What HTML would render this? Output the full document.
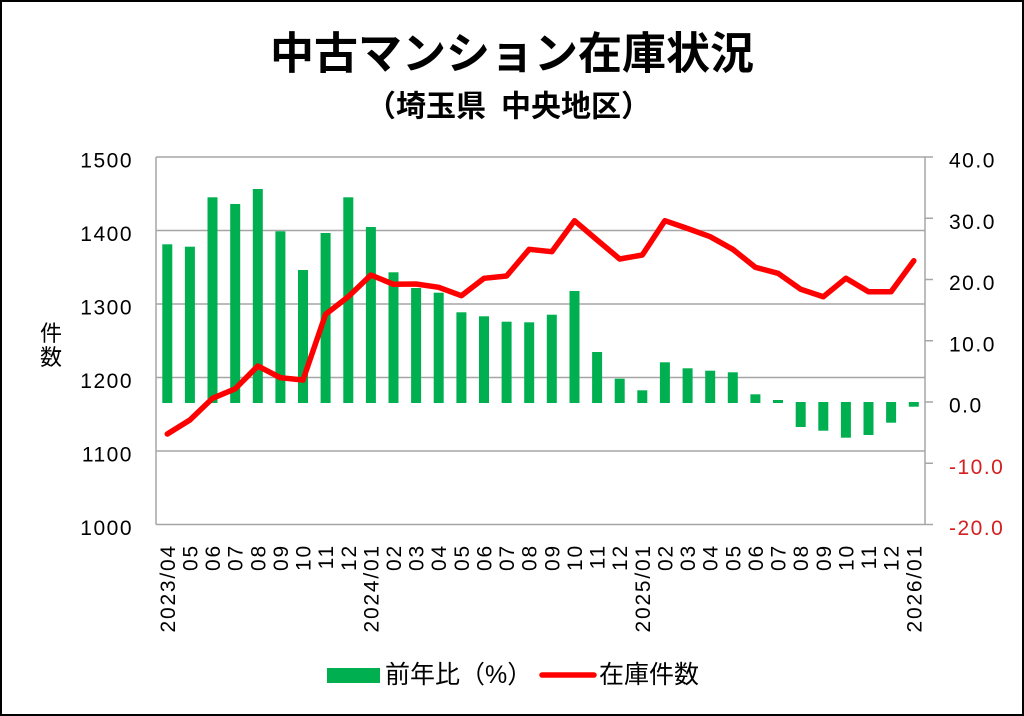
<!DOCTYPE html>
<html>
<head>
<meta charset="utf-8">
<style>
html,body{margin:0;padding:0;background:#fff;}
svg{display:block;}
text{font-family:"Liberation Sans","Noto Sans CJK JP",sans-serif;}
</style>
</head>
<body>
<svg width="1024" height="716" viewBox="0 0 1024 716" xmlns="http://www.w3.org/2000/svg">
<rect x="0" y="0" width="1024" height="716" fill="#fff"/>
<rect x="1" y="1" width="1022" height="714" fill="none" stroke="#000" stroke-width="2"/>

<!-- Title -->
<text x="270" y="68.5" font-size="44" font-weight="bold" fill="#000">中古マンション在庫状況</text>
<text x="366" y="116.5" font-size="30" font-weight="bold" fill="#000">（埼玉県</text>
<text x="501" y="116.5" font-size="30" font-weight="bold" fill="#000">中央地区）</text>

<!-- Gridlines -->
<g stroke="#a6a6a6" stroke-width="1.5" fill="none">
<line x1="156" y1="157" x2="925" y2="157"/>
<line x1="156" y1="230.5" x2="925" y2="230.5"/>
<line x1="156" y1="304" x2="925" y2="304"/>
<line x1="156" y1="377.5" x2="925" y2="377.5"/>
<line x1="156" y1="451" x2="925" y2="451"/>
<line x1="156" y1="524.5" x2="925" y2="524.5"/>
<line x1="156" y1="157" x2="156" y2="524.5"/>
<line x1="925" y1="157" x2="925" y2="524.5"/>
<line x1="925" y1="157" x2="933" y2="157"/>
<line x1="925" y1="218.25" x2="933" y2="218.25"/>
<line x1="925" y1="279.5" x2="933" y2="279.5"/>
<line x1="925" y1="340.75" x2="933" y2="340.75"/>
<line x1="925" y1="402" x2="933" y2="402"/>
<line x1="925" y1="463.25" x2="933" y2="463.25"/>
<line x1="925" y1="524.5" x2="933" y2="524.5"/>
</g>

<!-- Left axis labels -->
<g font-size="21" fill="#000" text-anchor="end" letter-spacing="1.5">
<text x="133" y="167.5">1500</text>
<text x="133" y="241">1400</text>
<text x="133" y="314.5">1300</text>
<text x="133" y="388">1200</text>
<text x="133" y="461.5">1100</text>
<text x="133" y="535">1000</text>
</g>

<!-- Right axis labels -->
<g font-size="21" letter-spacing="1.5">
<text x="949" y="167.5" fill="#000">40.0</text>
<text x="949" y="228.75" fill="#000">30.0</text>
<text x="949" y="290" fill="#000">20.0</text>
<text x="949" y="351.25" fill="#000">10.0</text>
<text x="949" y="412.5" fill="#000">0.0</text>
<text x="949" y="473.75" fill="#d42020">-10.0</text>
<text x="949" y="535" fill="#d42020">-20.0</text>
</g>

<!-- Y axis title -->
<text x="40" y="341" font-size="22" fill="#000">件</text>
<text x="40" y="365" font-size="22" fill="#000">数</text>

<!-- Bars -->
<g fill="#00b050">
<rect x="162.3" y="244.3" width="10" height="158.7"/>
<rect x="184.9" y="246.7" width="10" height="156.3"/>
<rect x="207.5" y="197.3" width="10" height="205.7"/>
<rect x="230.2" y="204" width="10" height="199"/>
<rect x="252.8" y="189" width="10" height="214"/>
<rect x="275.4" y="231.3" width="10" height="171.7"/>
<rect x="298.0" y="270" width="10" height="133"/>
<rect x="320.6" y="233" width="10" height="170"/>
<rect x="343.3" y="197.3" width="10" height="205.7"/>
<rect x="365.9" y="227" width="10" height="176"/>
<rect x="388.5" y="272.3" width="10" height="130.7"/>
<rect x="411.1" y="288" width="10" height="115"/>
<rect x="433.7" y="292.7" width="10" height="110.3"/>
<rect x="456.4" y="312.3" width="10" height="90.7"/>
<rect x="479.0" y="316.3" width="10" height="86.7"/>
<rect x="501.6" y="321.7" width="10" height="81.3"/>
<rect x="524.2" y="322.3" width="10" height="80.7"/>
<rect x="546.8" y="314.7" width="10" height="88.3"/>
<rect x="569.5" y="291" width="10" height="112"/>
<rect x="592.1" y="352" width="10" height="51"/>
<rect x="614.7" y="378.7" width="10" height="24.3"/>
<rect x="637.3" y="390.3" width="10" height="12.7"/>
<rect x="659.9" y="362.3" width="10" height="40.7"/>
<rect x="682.6" y="368.3" width="10" height="34.7"/>
<rect x="705.2" y="370.7" width="10" height="32.3"/>
<rect x="727.8" y="372.3" width="10" height="30.7"/>
<rect x="750.4" y="394.3" width="10" height="8.7"/>
<rect x="773.0" y="400" width="10" height="3"/>
<rect x="795.7" y="402" width="10" height="25"/>
<rect x="818.3" y="402" width="10" height="28.7"/>
<rect x="840.9" y="402" width="10" height="35.7"/>
<rect x="863.5" y="402" width="10" height="33"/>
<rect x="886.1" y="402" width="10" height="20.7"/>
<rect x="908.8" y="402" width="10" height="4.7"/>
</g>

<!-- Line -->
<polyline fill="none" stroke="#ff0000" stroke-width="5.5" stroke-linejoin="round" stroke-linecap="round"
points="167.3,434 189.9,420 212.5,398.3 235.2,388.8 257.8,366 280.4,377.7 303.0,380 325.6,314.3 348.3,296.7 370.9,275 393.5,284.3 416.1,284 438.7,287.3 461.4,295.7 484.0,278.3 506.6,276 529.2,249.3 551.8,251.7 574.5,220.7 597.1,240 619.7,259 642.3,255 664.9,220.7 687.6,228.5 710.2,236.7 732.8,249.3 755.4,267.3 778.0,273.3 800.7,289.3 823.3,296.7 845.9,278.3 868.5,291.7 891.1,291.7 913.8,260.7"/>

<!-- X labels -->
<g font-size="21" fill="#000" text-anchor="end" letter-spacing="1.8">
<text transform="translate(174.8,544) rotate(-90)">2023/04</text>
<text transform="translate(197.4,544) rotate(-90)">05</text>
<text transform="translate(220.0,544) rotate(-90)">06</text>
<text transform="translate(242.7,544) rotate(-90)">07</text>
<text transform="translate(265.3,544) rotate(-90)">08</text>
<text transform="translate(287.9,544) rotate(-90)">09</text>
<text transform="translate(310.5,544) rotate(-90)">10</text>
<text transform="translate(333.1,544) rotate(-90)">11</text>
<text transform="translate(355.8,544) rotate(-90)">12</text>
<text transform="translate(378.4,544) rotate(-90)">2024/01</text>
<text transform="translate(401.0,544) rotate(-90)">02</text>
<text transform="translate(423.6,544) rotate(-90)">03</text>
<text transform="translate(446.2,544) rotate(-90)">04</text>
<text transform="translate(468.9,544) rotate(-90)">05</text>
<text transform="translate(491.5,544) rotate(-90)">06</text>
<text transform="translate(514.1,544) rotate(-90)">07</text>
<text transform="translate(536.7,544) rotate(-90)">08</text>
<text transform="translate(559.3,544) rotate(-90)">09</text>
<text transform="translate(582.0,544) rotate(-90)">10</text>
<text transform="translate(604.6,544) rotate(-90)">11</text>
<text transform="translate(627.2,544) rotate(-90)">12</text>
<text transform="translate(649.8,544) rotate(-90)">2025/01</text>
<text transform="translate(672.4,544) rotate(-90)">02</text>
<text transform="translate(695.1,544) rotate(-90)">03</text>
<text transform="translate(717.7,544) rotate(-90)">04</text>
<text transform="translate(740.3,544) rotate(-90)">05</text>
<text transform="translate(762.9,544) rotate(-90)">06</text>
<text transform="translate(785.5,544) rotate(-90)">07</text>
<text transform="translate(808.2,544) rotate(-90)">08</text>
<text transform="translate(830.8,544) rotate(-90)">09</text>
<text transform="translate(853.4,544) rotate(-90)">10</text>
<text transform="translate(876.0,544) rotate(-90)">11</text>
<text transform="translate(898.6,544) rotate(-90)">12</text>
<text transform="translate(921.3,544) rotate(-90)">2026/01</text>
</g>

<!-- Legend -->
<rect x="327" y="668" width="53" height="15" fill="#00b050"/>
<text x="385" y="683" font-size="25" fill="#000">前年比（%）</text>
<line x1="542" y1="675" x2="594" y2="675" stroke="#ff0000" stroke-width="5.5" stroke-linecap="round"/>
<text x="599" y="683" font-size="25" fill="#000">在庫件数</text>
</svg>
</body>
</html>
